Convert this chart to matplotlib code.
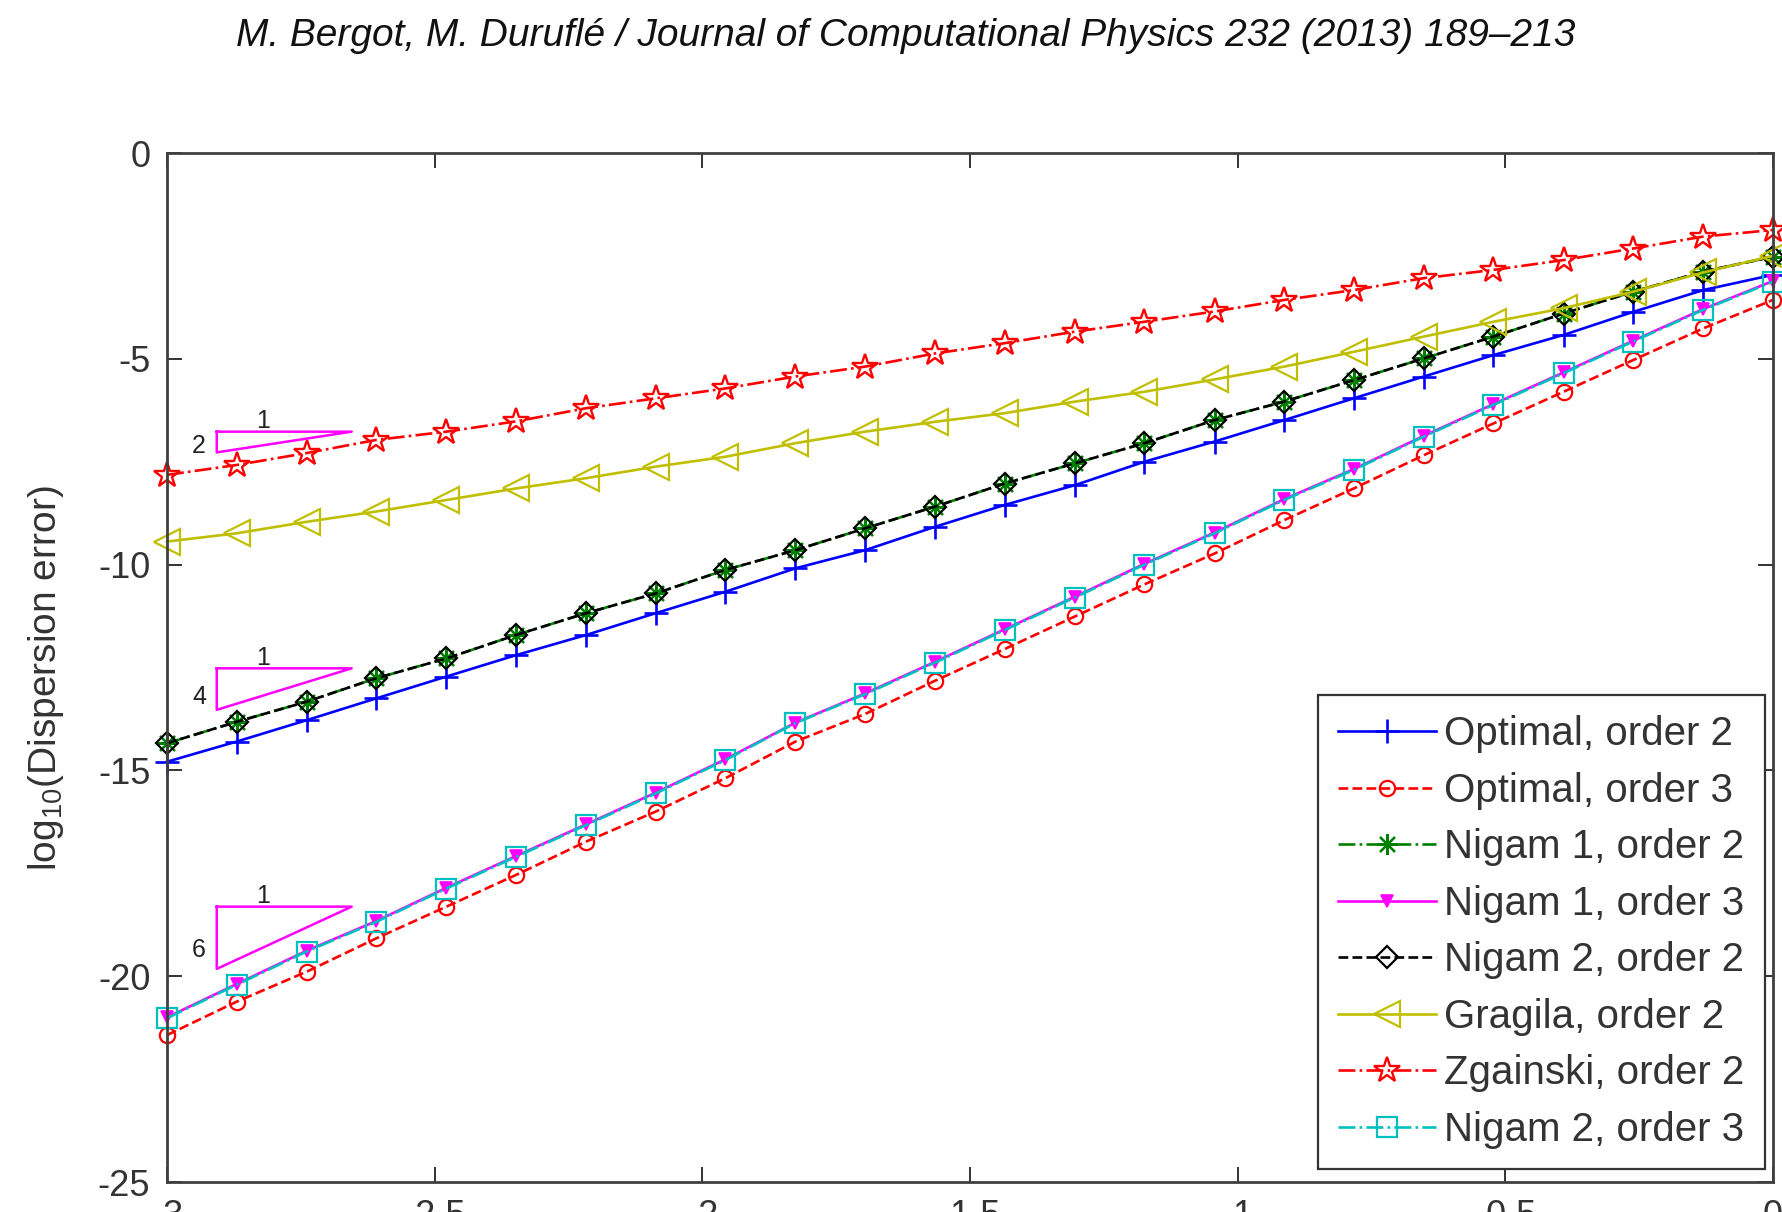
import numpy as np
import matplotlib
matplotlib.use("Agg")
import matplotlib.pyplot as plt

plt.rcParams['font.family'] = ['Liberation Sans', 'DejaVu Sans']
plt.rcParams['axes.unicode_minus'] = False
plt.rcParams['mathtext.fontset'] = 'custom'
plt.rcParams['mathtext.rm'] = 'Liberation Sans'
plt.rcParams['mathtext.default'] = 'regular'

# log10 of the mesh step
h = [-3.000, -2.870, -2.739, -2.609, -2.478, -2.348, -2.217, -2.087,
     -1.957, -1.826, -1.696, -1.565, -1.435, -1.304, -1.174, -1.043,
     -0.913, -0.783, -0.652, -0.522, -0.391, -0.261, -0.130, 0.000]

# log10 of the dispersion error for each scheme
optimal_2 = [-14.79, -14.30, -13.78, -13.25, -12.72, -12.20, -11.71, -11.18,
             -10.66, -10.09, -9.65, -9.08, -8.55, -8.07, -7.50, -7.01,
             -6.49, -5.96, -5.43, -4.91, -4.42, -3.86, -3.33, -2.96]
optimal_3 = [-21.43, -20.62, -19.89, -19.08, -18.31, -17.54, -16.73, -16.00,
             -15.19, -14.30, -13.63, -12.82, -12.05, -11.26, -10.48, -9.73,
             -8.92, -8.15, -7.34, -6.57, -5.80, -5.03, -4.26, -3.57]
nigam1_2 = [-14.34, -13.82, -13.33, -12.76, -12.28, -11.71, -11.18, -10.70,
            -10.13, -9.65, -9.12, -8.59, -8.03, -7.54, -7.05, -6.49,
            -6.04, -5.52, -4.99, -4.46, -3.90, -3.37, -2.88, -2.52]
nigam1_3 = [-21.00, -20.19, -19.38, -18.66, -17.85, -17.08, -16.31, -15.54,
            -14.73, -13.84, -13.13, -12.36, -11.57, -10.78, -9.98, -9.22,
            -8.41, -7.68, -6.87, -6.10, -5.33, -4.56, -3.79, -3.11]
nigam2_2 = [-14.34, -13.82, -13.33, -12.76, -12.28, -11.71, -11.18, -10.70,
            -10.13, -9.65, -9.12, -8.59, -8.03, -7.54, -7.05, -6.49,
            -6.04, -5.52, -4.99, -4.46, -3.90, -3.37, -2.88, -2.52]
gragila_2 = [-9.44, -9.24, -8.96, -8.71, -8.43, -8.15, -7.90, -7.62,
             -7.38, -7.05, -6.77, -6.53, -6.32, -6.04, -5.80, -5.50,
             -5.19, -4.83, -4.46, -4.10, -3.77, -3.37, -2.90, -2.50]
zgainski_2 = [-7.82, -7.58, -7.29, -6.97, -6.77, -6.52, -6.20, -5.96,
              -5.72, -5.43, -5.19, -4.87, -4.62, -4.34, -4.10, -3.85,
              -3.57, -3.33, -3.04, -2.84, -2.60, -2.32, -2.03, -1.87]
nigam2_3 = [-21.02, -20.21, -19.40, -18.68, -17.87, -17.10, -16.33, -15.56,
            -14.75, -13.85, -13.15, -12.38, -11.59, -10.80, -10.00, -9.24,
            -8.43, -7.70, -6.89, -6.12, -5.35, -4.58, -3.81, -3.13]

labels = ['Optimal, order 2', 'Optimal, order 3', 'Nigam 1, order 2',
          'Nigam 1, order 3', 'Nigam 2, order 2', 'Gragila, order 2',
          'Zgainski, order 2', 'Nigam 2, order 3']

# convergence-rate triangles
slopes = [2, 4, 6]
tri_top = [-6.77, -12.52, -18.31]
tri_x = [-2.907, -2.655]

green = (0, 0.5, 0)
olive = (0.75, 0.75, 0)
cyan = (0, 0.75, 0.75)
magenta = (1, 0, 1)
asterisk = (8, 2, 0)

fig = plt.figure(figsize=(17.82, 12.12), dpi=100)
ax = fig.add_axes([0.0937, 0.02475, 0.9012, 0.849])

styles = [
    (optimal_2, dict(color='b', ls='-', marker='+', ms=17, mew=1.9)),
    (optimal_3, dict(color='r', ls='--', marker='o', ms=11, mfc='none', mew=1.6)),
    (nigam1_2, dict(color=green, ls='-.', marker=asterisk, ms=15, mew=1.6)),
    (nigam1_3, dict(color=magenta, ls='-', marker='v', ms=9, mfc=magenta, mew=1.2)),
    (nigam2_2, dict(color='k', ls='--', marker='D', ms=11, mfc='none', mew=1.6)),
    (gragila_2, dict(color=olive, ls='-', marker='<', ms=19, mfc='none', mew=1.6)),
    (zgainski_2, dict(color='r', ls='-.', marker='*', ms=19, mfc='none', mew=1.7)),
    (nigam2_3, dict(color=cyan, ls='-.', marker='s', ms=14, mfc='none', mew=1.6)),
]

for (y, kw), lab in zip(styles, labels):
    ax.plot(h, y, lw=1.9, label=lab, clip_on=False, **kw)

for s, top in zip(slopes, tri_top):
    bottom = top - s * (tri_x[1] - tri_x[0])
    ax.plot([tri_x[0], tri_x[1], tri_x[0], tri_x[0]], [top, top, bottom, top],
            color=magenta, lw=1.8)
    ax.text(-2.82, top + 0.26, '1', fontsize=18, color='#222222',
            ha='center', va='center')
    ax.text(-2.94, bottom + 0.3 * (top - bottom), str(s), fontsize=18,
            color='#222222', ha='center', va='center')

ax.set_xlim(-3, 0)
ax.set_ylim(-25, 0)
ax.set_xticks([-3, -2.5, -2, -1.5, -1, -0.5, 0])
ax.set_xticklabels(['-3', '-2.5', '-2', '-1.5', '-1', '-0.5', '0'])
ax.set_yticks([-25, -20, -15, -10, -5, 0])
ax.tick_params(direction='in', length=11, width=1.4, top=True, right=True,
               labelsize=26, colors='#333333', pad=12)
for sp in ax.spines.values():
    sp.set_linewidth(2.0)
    sp.set_color('#404040')

ax.set_ylabel('log$_{10}$(Dispersion error)', fontsize=28, color='#333333')
ax.yaxis.set_label_coords(-0.063, 0.49)

leg = ax.legend(loc='lower right', bbox_to_anchor=(0.995, 0.0126),
                borderaxespad=0, fontsize=29, handlelength=2.45,
                handletextpad=0.2, borderpad=0.5, labelspacing=0.46,
                fancybox=False, framealpha=1, edgecolor='#333333')
leg.get_frame().set_linewidth(1.6)
for t in leg.get_texts():
    t.set_color('#333333')

fig.text(0.508, 1 - 36 / 1212,
         'M. Bergot, M. Duruflé / Journal of Computational Physics 232 (2013) 189–213',
         style='italic', fontsize=28, ha='center', va='center', color='#111111')

fig.savefig('out.png', dpi=100)
